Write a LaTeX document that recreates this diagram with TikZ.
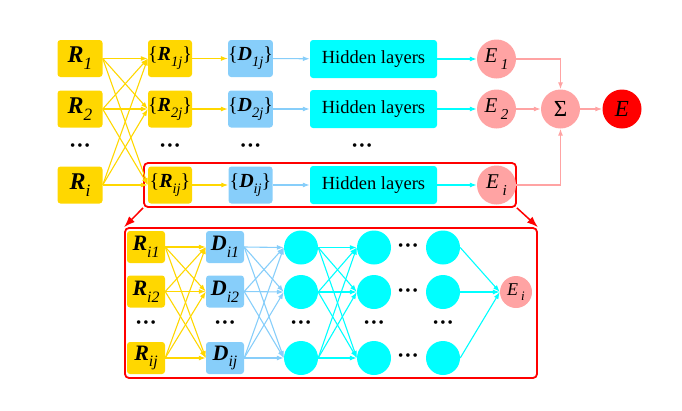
\documentclass[tikz,border=0pt]{standalone}
\usepackage{fontspec}
\usepackage{graphicx}
\setmainfont{Liberation Serif}
\usetikzlibrary{arrows.meta}

\definecolor{boxgold}{HTML}{FFD700}
\definecolor{boxblue}{HTML}{87CEFA}
\definecolor{nodecyan}{HTML}{00FFFF}
\definecolor{errpink}{HTML}{FFA3A3}

\newcommand{\sbs}[1]{\raisebox{-0.3em}{\scalebox{0.72}{\textit{#1}}}}
\newcommand{\bv}[2]{\textbf{\textit{#1}}\sbs{#2}}
\newcommand{\ev}[2]{\textit{#1}\,\sbs{#2}}
\newcommand{\dts}{{\fsz{15}\textbullet\hspace{2pt}\textbullet\hspace{2pt}\textbullet}}
\newcommand{\fsz}[1]{\fontsize{#1}{#1}\selectfont}

\begin{document}
\begin{tikzpicture}[x=1pt,y=-1pt,
  rbox/.style={fill=boxgold, rounded corners=3pt, inner sep=0pt,
    minimum width=45pt, minimum height=37pt, font=\fsz{24}},
  sbox/.style={fill=boxgold, rounded corners=3pt, inner sep=0pt,
    minimum width=44pt, minimum height=37pt, font=\fsz{20}},
  hbox/.style={fill=nodecyan, rounded corners=3pt, inner sep=0pt,
    minimum width=127pt, minimum height=38pt, font=\fsz{18.5}},
  ecirc/.style={circle, fill=errpink, inner sep=0pt, minimum size=39pt, font=\fsz{21}},
  bbox/.style={fill=boxgold, rounded corners=3pt, inner sep=0pt,
    minimum width=38pt, minimum height=32pt, font=\fsz{22}},
  ncirc/.style={circle, fill=nodecyan, inner sep=0pt, minimum size=34pt},
  dotsn/.style={inner sep=0pt},
  redbox/.style={draw=red, line width=1.8pt, rounded corners=4pt, inner sep=0pt},
  arr/.style={line width=1.1pt, -{Latex[length=7pt,width=5pt]}},
  goldarr/.style={arr, draw=boxgold},
  bluearr/.style={arr, draw=boxblue},
  cyanarr/.style={arr, draw=nodecyan},
  pinkarr/.style={arr, draw=errpink},
  redarr/.style={line width=1.5pt, draw=red, -{Latex[length=11pt,width=8pt]}}
]
  \useasboundingbox (0,0) rectangle (682,410);

  % Red frames behind the last row and the detail
  \node[redbox, minimum width=372pt, minimum height=44pt] (topbox) at (330,185) {};
  \node[redbox, minimum width=412pt, minimum height=150pt] (botbox) at (331,303) {};

  % Top part: inputs
  \node[rbox] (R1) at (80,58.5) {\bv{R}{1}};
  \node[rbox] (R2) at (80,109) {\bv{R}{2}};
  \node[dotsn] at (80,147) {\dts};
  \node[rbox] (Ri) at (80,185) {\bv{R}{i}};

  % Top part: grouped inputs and descriptors
  \node[sbox] (R1j) at (170,58.5) {\{\bv{R}{1j}\}};
  \node[sbox] (R2j) at (170,109) {\{\bv{R}{2j}\}};
  \node[dotsn] at (170,147) {\dts};
  \node[sbox] (Rij) at (170,185) {\{\bv{R}{ij}\}};

  \node[sbox, fill=boxblue] (D1j) at (250.5,58.5) {\{\bv{D}{1j}\}};
  \node[sbox, fill=boxblue] (D2j) at (250.5,109) {\{\bv{D}{2j}\}};
  \node[dotsn] at (250.5,147) {\dts};
  \node[sbox, fill=boxblue] (Dij) at (250.5,185) {\{\bv{D}{ij}\}};

  % Top part: hidden layers and outputs
  \node[hbox] (H1) at (373.5,59) {Hidden layers};
  \node[hbox] (H2) at (373.5,109) {Hidden layers};
  \node[dotsn] at (362,147) {\dts};
  \node[hbox] (Hi) at (373.5,185) {Hidden layers};

  \node[ecirc] (E1) at (496.5,59) {\ev{E}{1}};
  \node[ecirc] (E2) at (496.5,109) {\ev{E}{2}};
  \node[ecirc] (Ei) at (496.5,185) {\ev{E}{i}};
  \node[ecirc, font=\fsz{23}] (sum) at (560.5,109) {Σ};
  \node[ecirc, fill=red, font=\fsz{23}] (E) at (622,109) {\textit{E}};

  % Top part: connections
  \foreach \s in {R1,R2,Ri}
    \foreach \t in {R1j,R2j,Rij}
      \draw[goldarr] (\s.east) -- (\t.west);
  \draw[goldarr] (R1j) -- (D1j);
  \draw[goldarr] (R2j) -- (D2j);
  \draw[goldarr] (Rij) -- (Dij);
  \draw[bluearr] (D1j) -- (H1);
  \draw[bluearr] (D2j) -- (H2);
  \draw[bluearr] (Dij) -- (Hi);
  \draw[cyanarr] (H1) -- (E1);
  \draw[cyanarr] (H2) -- (E2);
  \draw[cyanarr] (Hi) -- (Ei);
  \draw[pinkarr] (E1) -| (sum);
  \draw[pinkarr] (E2) -- (sum);
  \draw[pinkarr] (Ei) -| (sum);
  \draw[pinkarr] (sum) -- (E);

  % Zoom arrows
  \draw[redarr] (topbox.south west) -- (botbox.north west);
  \draw[redarr] (topbox.south east) -- (botbox.north east);

  % Bottom part: inputs and descriptors
  \node[bbox] (Ra) at (146,247) {\bv{R}{i1}};
  \node[bbox] (Rb) at (146,291.5) {\bv{R}{i2}};
  \node[dotsn] at (146,324) {\dts};
  \node[bbox] (Rc) at (146,358) {\bv{R}{ij}};

  \node[bbox, fill=boxblue] (Da) at (225,247) {\bv{D}{i1}};
  \node[bbox, fill=boxblue] (Db) at (225,291.5) {\bv{D}{i2}};
  \node[dotsn] at (225,324) {\dts};
  \node[bbox, fill=boxblue] (Dc) at (225,358) {\bv{D}{ij}};

  % Bottom part: neurons
  \node[ncirc] (Na) at (301,247.5) {};
  \node[ncirc] (Nb) at (301,292) {};
  \node[dotsn] at (301,324) {\dts};
  \node[ncirc] (Nc) at (301,358) {};

  \node[ncirc] (Ma) at (374,247.5) {};
  \node[ncirc] (Mb) at (374,292) {};
  \node[dotsn] at (374,324) {\dts};
  \node[ncirc] (Mc) at (374,358) {};

  \node[dotsn] at (408,247.5) {\dts};
  \node[dotsn] at (408,292) {\dts};
  \node[dotsn] at (408,357) {\dts};

  \node[ncirc] (Ka) at (443,247.5) {};
  \node[ncirc] (Kb) at (443,292) {};
  \node[dotsn] at (443,324) {\dts};
  \node[ncirc] (Kc) at (443,358) {};

  \node[ecirc, minimum size=32pt, font=\fsz{18}] (Eib) at (516,292) {\ev{E}{i}};

  % Bottom part: connections
  \foreach \s in {Ra,Rb,Rc}
    \foreach \t in {Da,Db,Dc}
      \draw[goldarr] (\s.east) -- (\t.west);
  \foreach \s in {Da,Db,Dc}
    \foreach \t in {Na,Nb,Nc}
      \draw[bluearr] (\s.east) -- (\t.west);
  \foreach \s in {Na,Nb,Nc}
    \foreach \t in {Ma,Mb,Mc}
      \draw[cyanarr] (\s.east) -- (\t.west);
  \foreach \s in {Ka,Kb,Kc}
    \draw[cyanarr] (\s.east) -- (Eib.west);

\end{tikzpicture}
\end{document}
